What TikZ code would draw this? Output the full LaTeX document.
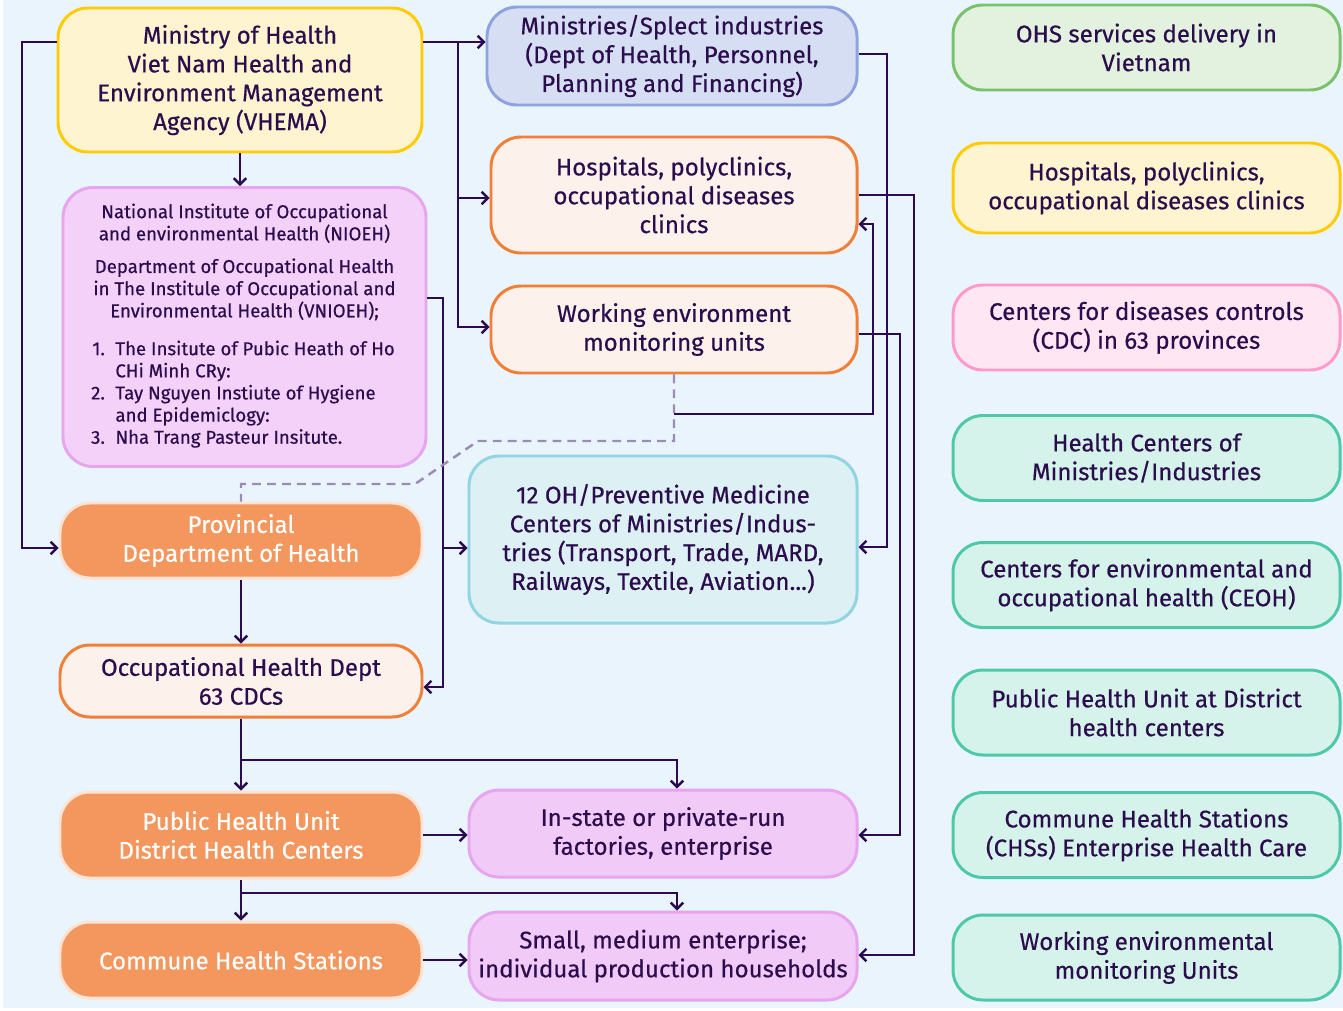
\documentclass[tikz,border=0pt]{standalone}
\usepackage{fontspec}
\usepackage{array}
\setmainfont{Fira Sans}[FakeBold=0.5]
\usetikzlibrary{arrows.meta}
\definecolor{bgblue}{HTML}{EAF4FD}
\definecolor{ink}{HTML}{2B0D4D}
\definecolor{linkc}{HTML}{2B0A52}
\definecolor{dashc}{HTML}{9C8CB3}
\definecolor{yelfill}{HTML}{FFF4D0}
\definecolor{yeldraw}{HTML}{FFCB05}
\definecolor{vioFill}{HTML}{F4D1F9}
\definecolor{vioDraw}{HTML}{E6A5EE}
\definecolor{lilacFill}{HTML}{F2CAF7}
\definecolor{bluFill}{HTML}{D6DEF4}
\definecolor{bluDraw}{HTML}{8FA3DC}
\definecolor{peachFill}{HTML}{FDF1EC}
\definecolor{orgDraw}{HTML}{F07F37}
\definecolor{cyanFill}{HTML}{DDF0F4}
\definecolor{cyanDraw}{HTML}{91D4E2}
\definecolor{orgFill}{HTML}{F3975E}
\definecolor{orgEdge}{HTML}{FCE3D3}
\definecolor{grnFill}{HTML}{E3F2DF}
\definecolor{grnDraw}{HTML}{79C26C}
\definecolor{pnkFill}{HTML}{FEE7F3}
\definecolor{pnkDraw}{HTML}{FF9ACB}
\definecolor{tealFill}{HTML}{D5F3EA}
\definecolor{tealDraw}{HTML}{4DC9A7}

\begin{document}
\begin{tikzpicture}[x=0.02cm, y=-0.02cm,
    box/.style={rounded corners=0.6cm, line width=1.7pt, align=center, text=ink,
        font=\fontsize{13.7}{16.4}\selectfont, inner sep=2pt},
    peach/.style={box, fill=peachFill, draw=orgDraw},
    orange/.style={box, fill=orgFill, draw=orgEdge, text=white},
    violet/.style={box, fill=vioFill, draw=vioDraw},
    lilac/.style={box, fill=lilacFill, draw=vioDraw},
    teal/.style={box, fill=tealFill, draw=tealDraw, minimum width=387*0.02cm, minimum height=85*0.02cm},
    link/.style={draw=linkc, line width=1.4pt, -{Straight Barb[length=3.5pt,width=7pt]}},
    plain/.style={draw=linkc, line width=1.4pt}]
    \useasboundingbox (0,0) rectangle (1343,1011);
    \fill[white] (0,0) rectangle (1343,1011);
    \fill[bgblue] (3,0) rectangle (1343,1008);

    % left column
    \node[box, fill=yelfill, draw=yeldraw, minimum width=364*0.02cm, minimum height=144*0.02cm] (vhema) at (240,80)
        {Ministry of Health\\Viet Nam Health and\\Environment Management\\Agency (VHEMA)};
    \node[violet, minimum width=363*0.02cm, minimum height=279*0.02cm, font=\fontsize{10.6}{12.6}\selectfont] (nioeh) at (244.5,327)
        {National Institute of Occupational\\and environmental Health (NIOEH)\\[6pt]
         Department of Occupational Health\\in The Institule of Occupational and\\Environmental Health (VNIOEH);\\[10pt]
         \begin{tabular}{@{}r@{\hspace{6pt}}>{\raggedright\arraybackslash}p{5.65cm}@{}}
         1. & The Insitute of Pubic Heath of Ho CHi Minh CRy:\\
         2. & Tay Nguyen Instiute of Hygiene and Epidemiclogy:\\
         3. & Nha Trang Pasteur Insitute.
         \end{tabular}};
    \node[orange, minimum width=362*0.02cm, minimum height=75*0.02cm] (provincial) at (241,540.5)
        {Provincial\\Department of Health};
    \node[peach, minimum width=362*0.02cm, minimum height=72*0.02cm] (ohdept) at (241,681)
        {Occupational Health Dept\\63 CDCs};
    \node[orange, minimum width=362*0.02cm, minimum height=86*0.02cm] (phu) at (241,835)
        {Public Health Unit\\District Health Centers};
    \node[orange, minimum width=362*0.02cm, minimum height=76*0.02cm] (commune) at (241,960)
        {Commune Health Stations};

    % middle column
    \node[box, fill=bluFill, draw=bluDraw, minimum width=370*0.02cm, minimum height=98*0.02cm] (ministries) at (672,56)
        {Ministries/Splect industries\\(Dept of Health, Personnel,\\Planning and Financing)};
    \node[peach, minimum width=366*0.02cm, minimum height=116*0.02cm] (hospitals) at (674,195)
        {Hospitals, polyclinics,\\occupational diseases\\clinics};
    \node[peach, minimum width=366*0.02cm, minimum height=87*0.02cm] (workenv) at (674,329.5)
        {Working environment\\monitoring units};
    \node[box, fill=cyanFill, draw=cyanDraw, minimum width=388*0.02cm, minimum height=167*0.02cm] (ohcenters) at (663,539.5)
        {12 OH/Preventive Medicine\\Centers of Ministries/Indus-\\tries (Transport, Trade, MARD,\\Railways, Textile, Aviation...)};
    \node[lilac, minimum width=388*0.02cm, minimum height=87*0.02cm] (instate) at (663,833.5)
        {In-state or private-run\\factories, enterprise};
    \node[lilac, minimum width=388*0.02cm, minimum height=88*0.02cm] (small) at (663,956)
        {Small, medium enterprise;\\individual production households};

    % right column
    \node[box, fill=grnFill, draw=grnDraw, minimum width=387*0.02cm, minimum height=85*0.02cm] (ohs) at (1146.5,47.5)
        {OHS services delivery in\\Vietnam};
    \node[box, fill=yelfill, draw=yeldraw, minimum width=387*0.02cm, minimum height=90*0.02cm] (hosp) at (1146.5,188)
        {Hospitals, polyclinics,\\occupational diseases clinics};
    \node[box, fill=pnkFill, draw=pnkDraw, minimum width=387*0.02cm, minimum height=85*0.02cm] (cdc) at (1146.5,327.5)
        {Centers for diseases controls\\(CDC) in 63 provinces};
    \node[teal] (hcmin) at (1146.5,458) {Health Centers of\\Ministries/Industries};
    \node[teal] (ceoh) at (1146.5,585) {Centers for environmental and\\occupational health (CEOH)};
    \node[teal] (phud) at (1146.5,712.5) {Public Health Unit at District\\health centers};
    \node[teal] (chs) at (1146.5,835) {Commune Health Stations\\(CHSs) Enterprise Health Care};
    \node[teal] (wemu) at (1146.5,957.5) {Working environmental\\monitoring Units};

    % connectors
    \draw[link] (vhema.west|-0,42) -- (22,42) |- (provincial.west|-0,548);
    \draw[link] (vhema.east|-0,42) -- (ministries.west|-0,42);
    \coordinate (split) at (458,42);
    \draw[link] (split) |- (hospitals.west|-0,198);
    \draw[link] (split) |- (workenv.west|-0,327);
    \draw[link] (vhema.south) -- (vhema.south|-nioeh.north);
    \draw[link] (nioeh.east|-0,298) -- (443,298) |- (ohdept.east|-0,687);
    \draw[link] (443,548) -- (ohcenters.west|-0,548);
    \draw[dashc, line width=1.4pt, dash pattern=on 5pt off 3.5pt] (workenv.south) -- (674,441) -- (478,441)
        -- (415,484) -- (241,484) -- (provincial.north);
    \draw[link] (674,414) -- (873,414) |- (hospitals.east|-0,224);
    \draw[link] (ministries.east|-0,54) -- (887,54) |- (ohcenters.east|-0,547);
    \draw[link] (hospitals.east|-0,195) -- (914,195) |- (small.east|-0,955);
    \draw[link] (workenv.east|-0,334) -- (900,334) |- (instate.east|-0,835);
    \draw[link] (provincial.south) -- (ohdept.north);
    \draw[link] (ohdept.south) -- (phu.north);
    \draw[link] (241,760) -- (677,760) -- (instate.north-|677,0);
    \draw[link] (phu.south) -- (commune.north);
    \draw[link] (241,893) -- (677,893) -- (small.north-|677,0);
    \draw[link] (phu.east) -- (phu.east-|instate.west);
    \draw[link] (commune.east) -- (commune.east-|small.west);
\end{tikzpicture}
\end{document}
